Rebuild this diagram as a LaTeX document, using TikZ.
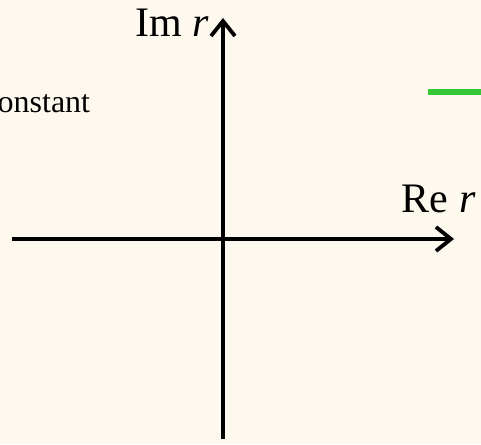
\documentclass[tikz,border=0pt]{standalone}
\usepackage{fontspec}
\setmainfont{Liberation Serif}
\usetikzlibrary{arrows.meta, positioning}
\definecolor{cpaper}{HTML}{FDF9EE}
\definecolor{cgreen}{HTML}{36C936}
\tikzset{
  every picture/.style={line width=3.8pt},
  axis/.style={draw=black, -{Straight Barb[length=15pt, width=24pt, line width=3.8pt]}},
  axlabel/.style={font=\fontsize{42}{48}\selectfont, inner sep=0pt},
  note/.style={font=\fontsize{32}{38}\selectfont, inner sep=0pt},
}

\begin{document}
\begin{tikzpicture}[x=1pt, y=1pt]
  \fill[cpaper] (-223,-205) rectangle (258,239);
  \useasboundingbox (-223,-205) rectangle (258,239);
  \clip (-223,-205) rectangle (258,239);
  % axes
  \coordinate (xl) at (-211,0);
  \coordinate (xr) at (231,0);
  \coordinate (yb) at (0,-200);
  \coordinate (yt) at (0,221);
  \draw[axis] (xl) -- (xr);
  \draw[axis] (yb) -- (yt);
  \node[axlabel, anchor=base east] (im) at (-12,202) {Im \textit{r}};
  \node[axlabel, anchor=base west] (re) at (177,27) {Re \textit{r}};
  % cut-off pieces
  \node[note, anchor=base east] (const) at (-131,126) {constant};
  \coordinate (gl) at (205,147);
  \coordinate (gr) at (262,147);
  \draw[cgreen, line width=5.5pt] (gl) -- (gr);
\end{tikzpicture}
\end{document}
